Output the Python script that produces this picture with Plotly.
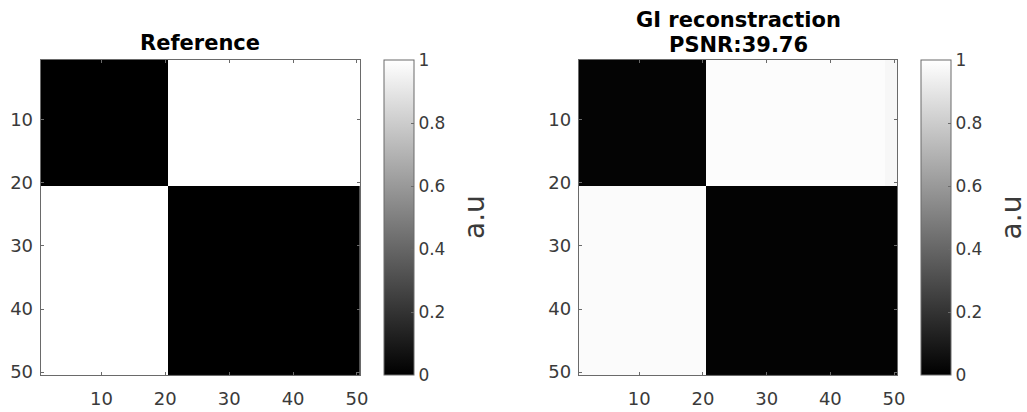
import numpy as np
import plotly.graph_objects as go

# ---- data ----
grid_size = 50
block_split = 20
# block values [top-left, top-right, bottom-left, bottom-right]
reference_blocks = [0.0, 1.0, 1.0, 0.0]
recon_blocks = [0.015, 0.99, 0.985, 0.012]
recon_edge_cols = [49, 50]      # slightly darker columns in top-right block
recon_edge_value = 0.97
axis_ticks = [10, 20, 30, 40, 50]
cbar_ticks = [0, 0.2, 0.4, 0.6, 0.8, 1]
cbar_ticklabels = ["0", "0.2", "0.4", "0.6", "0.8", "1"]
title_lines = [["Reference"], ["GI reconstraction", "PSNR:39.76"]]
cbar_label = "a.u"


def build(blocks):
    z = np.zeros((grid_size, grid_size))
    s = block_split
    z[:s, :s] = blocks[0]
    z[:s, s:] = blocks[1]
    z[s:, :s] = blocks[2]
    z[s:, s:] = blocks[3]
    return z


z_ref = build(reference_blocks)
z_rec = build(recon_blocks)
for c in recon_edge_cols:
    z_rec[:block_split, c - 1] = recon_edge_value

coords = list(range(1, grid_size + 1))

W, H = 1027, 412
FONT = "DejaVu Sans"
TXT = "#3a3a3a"
LINE = "#6a6a6a"
TICK_SIZE = 18

ax_left = [(41, 363), (583.3, 904.3)]
cb_left = [386.7, 928.3]
y_top, y_bot = 61, 381.7

fig = go.Figure()
for i, z in enumerate([z_ref, z_rec]):
    fig.add_trace(go.Heatmap(
        z=z, x=coords, y=coords,
        colorscale=[[0, "#000000"], [1, "#ffffff"]],
        zmin=0, zmax=1,
        xaxis="x" if i == 0 else "x2",
        yaxis="y" if i == 0 else "y2",
        hoverinfo="skip",
        colorbar=dict(
            x=cb_left[i] / W, xanchor="left", xpad=0, ypad=0,
            y=1 - (y_top + y_bot) / 2 / H, yanchor="middle",
            len=(y_bot - y_top) / H, lenmode="fraction",
            thickness=30, thicknessmode="pixels",
            outlinewidth=1, outlinecolor=LINE,
            tickvals=cbar_ticks, ticktext=cbar_ticklabels,
            ticks="inside", ticklen=3, tickcolor=LINE,
            tickfont=dict(family=FONT, size=TICK_SIZE - 1, color=TXT),
        ),
    ))

axcommon = dict(
    showgrid=False, zeroline=False, showline=True, linecolor=LINE, linewidth=1,
    mirror="ticks", ticks="inside", ticklen=3, tickcolor=LINE,
    tickvals=axis_ticks, tickfont=dict(family=FONT, size=TICK_SIZE, color=TXT),
)

layout = dict(
    width=W, height=H, margin=dict(l=0, r=0, t=0, b=0),
    paper_bgcolor="white", plot_bgcolor="white", showlegend=False,
)
for i in range(2):
    sx = "" if i == 0 else "2"
    layout["xaxis" + sx] = dict(
        axcommon, domain=[ax_left[i][0] / W, ax_left[i][1] / W],
        range=[0.5, 50.5], anchor="y" + sx, ticklabelstandoff=7,
    )
    layout["yaxis" + sx] = dict(
        axcommon, domain=[1 - y_bot / H, 1 - y_top / H],
        range=[50.5, 0.5], anchor="x" + sx, ticklabelstandoff=3,
    )
fig.update_layout(**layout)

annotations = []
title_y = [[44], [20.5, 46]]
for i in range(2):
    for line, ty in zip(title_lines[i], title_y[i]):
        annotations.append(dict(
            text=line, xref="paper", yref="paper",
            x=(ax_left[i][0] + ax_left[i][1]) / 2 / W, y=1 - ty / H,
            xanchor="center", yanchor="middle", showarrow=False,
            font=dict(family=FONT, size=21, color="#000000", weight="bold"),
        ))
    annotations.append(dict(
        text=cbar_label, xref="paper", yref="paper",
        x=(477.5 + (cb_left[i] - cb_left[0])) / W, y=1 - 221 / H,
        xanchor="center", yanchor="middle", showarrow=False, textangle=-90,
        font=dict(family=FONT, size=28, color=TXT),
    ))
fig.update_layout(annotations=annotations)

fig.write_html("out.html")
